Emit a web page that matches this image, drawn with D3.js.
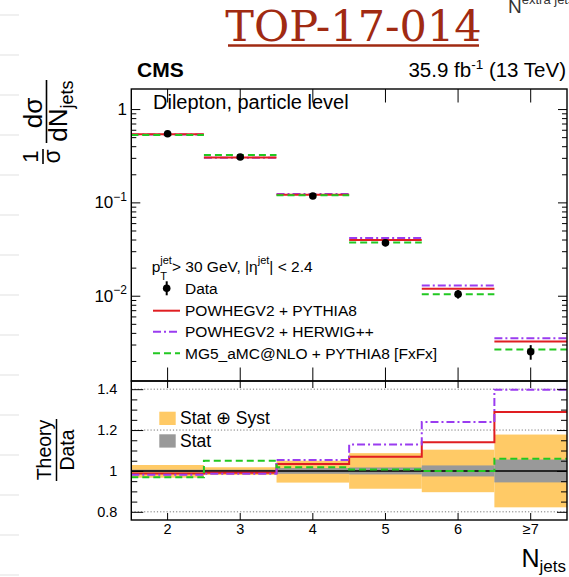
<!DOCTYPE html>
<html>
<head>
<meta charset="utf-8">
<script src="https://cdn.jsdelivr.net/npm/d3@7"></script>
<style>
  body { margin: 0; background: #fff; }
  svg { display: block; }
  text { font-family: "Liberation Sans", Arial, sans-serif; fill: #000; }
</style>
</head>
<body>
<svg id="chart" width="569" height="577"></svg>
<script>
// Jet multiplicity categories
const categories = ["2", "3", "4", "5", "6", "≥7"];

// Normalised cross section, measured
const dataValues = [0.543, 0.306, 0.117, 0.0369, 0.0104, 0.00251];
// Relative uncertainties (total up / down, statistical)
const totalUncUp   = [0.029, 0.018, 0.050, 0.087, 0.104, 0.178];
const totalUncDown = [0.033, 0.020, 0.057, 0.087, 0.104, 0.178];
const statUnc      = [0.006, 0.006, 0.014, 0.017, 0.027, 0.056];

// Predictions
const powhegPythia = [0.5365, 0.3032, 0.1210, 0.03945, 0.01186, 0.003233];
const powhegHerwig = [0.5327, 0.3017, 0.1232, 0.04166, 0.01289, 0.003506];
const mg5Pythia    = [0.5262, 0.3213, 0.1191, 0.03716, 0.0104, 0.00266];

// Axis ticks
const topMajorTicks = [1e-2, 1e-1, 1];
const topTickLabels = [["10", "\u22122"], ["10", "\u22121"], ["1", ""]];
const ratioMajorTicks = [0.8, 1, 1.2, 1.4];
const ratioTickLabels = ["0.8", "1", "1.2", "1.4"];
const ratioGridValues = [0.8, 1.2, 1.4];

const models = [
  { name: "POWHEGV2 + PYTHIA8", values: powhegPythia, color: "#e01e22", dash: null },
  { name: "POWHEGV2 + HERWIG++", values: powhegHerwig, color: "#9a3cf0", dash: "8,3,2,3" },
  { name: "MG5_aMC@NLO + PYTHIA8 [FxFx]", values: mg5Pythia, color: "#22c822", dash: "7,4" }
];

const svg = d3.select("#chart");

// faint rules at the very left edge of the page
for (let k = 0; k < 15; k++) {
  svg.append("line").attr("x1", 0).attr("x2", 19).attr("y1", 15 + 40 * k).attr("y2", 15 + 40 * k)
    .attr("stroke", "#f0f0f0").attr("stroke-width", 2);
}

// Panel geometry
const xL = 131.3, xR = 567;
const topY0 = 89, midY = 381, botY = 520;

const x = d3.scaleBand().domain(categories).range([xL, xR]).padding(0);
const y = d3.scaleLog().domain([1.22e-3, 1.64]).range([midY, topY0]);
const yr = d3.scaleLinear().domain([0.76, 1.44]).range([botY, midY]);

// ---------- header ----------
svg.append("text").attr("x", 353.5).attr("y", 41)
  .attr("text-anchor", "middle")
  .style("font-family", "'DejaVu Serif', serif").style("font-size", "43px")
  .style("fill", "#a02a12").text("TOP-17-014");
svg.append("line").attr("x1", 228).attr("x2", 479).attr("y1", 45.5).attr("y2", 45.5)
  .attr("stroke", "#a02a12").attr("stroke-width", 2.5);

const nx = svg.append("text").attr("x", 508).attr("y", 12.5).style("fill", "#333");
nx.append("tspan").style("font-size", "19px").text("N");
nx.append("tspan").style("font-size", "13px").attr("dy", -8.5).text("extra jets");

svg.append("text").attr("x", 137).attr("y", 77)
  .style("font-size", "21px").style("font-weight", "bold").text("CMS");
const lumi = svg.append("text").attr("x", 566).attr("y", 77).attr("text-anchor", "end")
  .style("font-size", "20.5px");
lumi.append("tspan").text("35.9 fb");
lumi.append("tspan").attr("dy", -8).style("font-size", "13.5px").text("-1");
lumi.append("tspan").attr("dy", 8).text(" (13 TeV)");

// ---------- top panel ----------
const topG = svg.append("g");

// predictions as horizontal bin segments
[models[1], models[0], models[2]].forEach(m => {
  topG.selectAll(null).data(categories).enter().append("line")
    .attr("x1", d => x(d)).attr("x2", d => x(d) + x.bandwidth())
    .attr("y1", (d, i) => y(m.values[i])).attr("y2", (d, i) => y(m.values[i]))
    .attr("stroke", m.color).attr("stroke-width", 2)
    .attr("stroke-dasharray", m.dash);
});

// data points with total uncertainty
topG.selectAll(null).data(categories).enter().append("line")
  .attr("x1", d => x(d) + x.bandwidth() / 2).attr("x2", d => x(d) + x.bandwidth() / 2)
  .attr("y1", (d, i) => y(dataValues[i] * (1 + totalUncUp[i])))
  .attr("y2", (d, i) => y(dataValues[i] * (1 - totalUncDown[i])))
  .attr("stroke", "#000").attr("stroke-width", 2);
topG.selectAll(null).data(categories).enter().append("circle")
  .attr("cx", d => x(d) + x.bandwidth() / 2)
  .attr("cy", (d, i) => y(dataValues[i]))
  .attr("r", 3.8).attr("fill", "#000");

// frame + ticks
const topMinor = [];
for (let e = -3; e <= 0; e++) for (let m = 2; m <= 9; m++) {
  const v = m * Math.pow(10, e);
  if (v > y.domain()[0] && v < y.domain()[1]) topMinor.push(v);
}
function styleAxis(g) {
  g.select(".domain").remove();
  g.selectAll(".tick line").attr("stroke", "#000").attr("stroke-width", 1);
}
svg.append("g").attr("transform", `translate(${xL},0)`)
  .call(d3.axisLeft(y).tickValues(topMajorTicks).tickSize(-9).tickFormat("")).call(styleAxis);
svg.append("g").attr("transform", `translate(${xL},0)`)
  .call(d3.axisLeft(y).tickValues(topMinor).tickSize(-5).tickFormat("")).call(styleAxis);
svg.append("g").attr("transform", `translate(${xR},0)`)
  .call(d3.axisRight(y).tickValues(topMajorTicks).tickSize(-9).tickFormat("")).call(styleAxis);
svg.append("g").attr("transform", `translate(${xR},0)`)
  .call(d3.axisRight(y).tickValues(topMinor).tickSize(-5).tickFormat("")).call(styleAxis);
svg.append("g").attr("transform", `translate(0,${midY})`)
  .call(d3.axisBottom(x).tickSize(-13.5).tickFormat("")).call(styleAxis);
svg.append("g").attr("transform", `translate(0,${topY0})`)
  .call(d3.axisTop(x).tickSize(-13.5).tickFormat("")).call(styleAxis);

topMajorTicks.forEach((v, i) => {
  const t = svg.append("text").attr("x", 127).attr("y", y(v) + 6)
    .attr("text-anchor", "end").style("font-size", "17px");
  t.append("tspan").text(topTickLabels[i][0]);
  if (topTickLabels[i][1]) {
    t.append("tspan").attr("dy", -7.5).style("font-size", "12px").text(topTickLabels[i][1]);
  }
});

svg.append("rect").attr("x", xL).attr("y", topY0).attr("width", xR - xL).attr("height", midY - topY0)
  .attr("fill", "none").attr("stroke", "#000").attr("stroke-width", 1.4);

// top panel texts
svg.append("text").attr("x", 153).attr("y", 109).style("font-size", "20px")
  .text("Dilepton, particle level");

const cut = svg.append("text").attr("x", 151.7).attr("y", 272).style("font-size", "15.5px");
cut.append("tspan").text("p");
cut.append("tspan").attr("dy", -8.5).style("font-size", "11px").text("jet");
cut.append("tspan").attr("dy", 8.5).text("> 30 GeV, |\u03b7");
cut.append("tspan").attr("dy", -8.5).style("font-size", "11px").text("jet");
cut.append("tspan").attr("dy", 8.5).text("| < 2.4");
svg.append("text").attr("x", 160.3).attr("y", 279.5).style("font-size", "11px").text("T");

const legendRows = [288.3, 310.7, 331.7, 353.3];
svg.append("line").attr("x1", 166.7).attr("x2", 166.7)
  .attr("y1", legendRows[0] - 7).attr("y2", legendRows[0] + 7)
  .attr("stroke", "#000").attr("stroke-width", 2);
svg.append("circle").attr("cx", 166.7).attr("cy", legendRows[0]).attr("r", 3.8).attr("fill", "#000");
svg.append("text").attr("x", 185).attr("y", legendRows[0] + 5.5).style("font-size", "15.5px").text("Data");
models.forEach((m, i) => {
  const ry = legendRows[i + 1];
  svg.append("line").attr("x1", 153).attr("x2", 180).attr("y1", ry).attr("y2", ry)
    .attr("stroke", m.color).attr("stroke-width", 2).attr("stroke-dasharray", m.dash);
  svg.append("text").attr("x", 185).attr("y", ry + 5.5).style("font-size", "15.5px").text(m.name);
});

// y title: 1/sigma dsigma/dN_jets
function rotText(X, Y, size, str) {
  return svg.append("text").attr("transform", `translate(${X},${Y}) rotate(-90)`)
    .attr("text-anchor", "middle").style("font-size", size + "px").text(str);
}
rotText(38, 156.5, 22, "1");
svg.append("line").attr("x1", 43).attr("x2", 43).attr("y1", 149).attr("y2", 164)
  .attr("stroke", "#000").attr("stroke-width", 1.6);
rotText(60, 156.5, 23, "\u03c3");
rotText(42, 113, 26, "d\u03c3");
svg.append("line").attr("x1", 46.5).attr("x2", 46.5).attr("y1", 80).attr("y2", 143)
  .attr("stroke", "#000").attr("stroke-width", 1.6);
const dn = svg.append("text").attr("transform", `translate(67,111) rotate(-90)`)
  .attr("text-anchor", "middle").style("font-size", "26px");
dn.append("tspan").text("dN");
dn.append("tspan").attr("dy", 6).style("font-size", "18px").text("jets");

// ---------- ratio panel ----------
const edges = categories.map(c => x(c)).concat([xR]);

svg.selectAll(null).data(categories).enter().append("rect")
  .attr("x", d => x(d)).attr("width", x.bandwidth())
  .attr("y", (d, i) => yr(1 + totalUncUp[i]))
  .attr("height", (d, i) => yr(1 - totalUncDown[i]) - yr(1 + totalUncUp[i]))
  .attr("fill", "#ffca66");
svg.selectAll(null).data(categories).enter().append("rect")
  .attr("x", d => x(d)).attr("width", x.bandwidth())
  .attr("y", (d, i) => yr(1 + statUnc[i]))
  .attr("height", (d, i) => yr(1 - statUnc[i]) - yr(1 + statUnc[i]))
  .attr("fill", "#999999");

ratioGridValues.forEach(v => {
  svg.append("line").attr("x1", xL).attr("x2", xR).attr("y1", yr(v)).attr("y2", yr(v))
    .attr("stroke", "#777").attr("stroke-width", 1).attr("stroke-dasharray", "1.2,2");
});
svg.append("line").attr("x1", xL).attr("x2", xR).attr("y1", yr(1)).attr("y2", yr(1))
  .attr("stroke", "#000").attr("stroke-width", 1.5);

const stepLine = d3.line().x(d => d[0]).y(d => yr(d[1])).curve(d3.curveStepAfter);
models.forEach(m => {
  const ratios = m.values.map((v, i) => v / dataValues[i]);
  const pts = ratios.map((r, i) => [edges[i], r]).concat([[edges[edges.length - 1], ratios[ratios.length - 1]]]);
  svg.append("path").attr("d", stepLine(pts)).attr("fill", "none")
    .attr("stroke", m.color).attr("stroke-width", 2).attr("stroke-dasharray", m.dash);
});

const ratioMinor = d3.range(0.8, 1.44, 0.05).filter(v => !ratioMajorTicks.some(t => Math.abs(t - v) < 1e-6));
svg.append("g").attr("transform", `translate(${xL},0)`)
  .call(d3.axisLeft(yr).tickValues(ratioMajorTicks).tickSize(-12).tickPadding(14)
    .tickFormat((d, i) => ratioTickLabels[i]))
  .call(styleAxis)
  .call(g => g.selectAll("text").style("font-size", "14.5px").style("font-family", "'Liberation Sans', Arial, sans-serif"));
svg.append("g").attr("transform", `translate(${xL},0)`)
  .call(d3.axisLeft(yr).tickValues(ratioMinor).tickSize(-6).tickFormat("")).call(styleAxis);
svg.append("g").attr("transform", `translate(${xR},0)`)
  .call(d3.axisRight(yr).tickValues(ratioMajorTicks).tickSize(-10).tickFormat("")).call(styleAxis);
svg.append("g").attr("transform", `translate(${xR},0)`)
  .call(d3.axisRight(yr).tickValues(ratioMinor).tickSize(-6).tickFormat("")).call(styleAxis);
svg.append("g").attr("transform", `translate(0,${botY})`)
  .call(d3.axisBottom(x).tickSize(-7).tickPadding(4))
  .call(styleAxis)
  .call(g => g.selectAll("text").style("font-size", "14.5px").style("font-family", "'Liberation Sans', Arial, sans-serif"));
svg.append("g").attr("transform", `translate(0,${midY})`)
  .call(d3.axisTop(x).tickSize(-7).tickFormat("")).call(styleAxis);

svg.append("rect").attr("x", xL).attr("y", midY).attr("width", xR - xL).attr("height", botY - midY)
  .attr("fill", "none").attr("stroke", "#000").attr("stroke-width", 1.4);

// ratio legend
svg.append("rect").attr("x", 159.3).attr("y", 411.7).attr("width", 16.4).attr("height", 13.3).attr("fill", "#ffca66");
svg.append("text").attr("x", 180).attr("y", 424).style("font-size", "17.5px").text("Stat \u2295 Syst");
svg.append("rect").attr("x", 159.3).attr("y", 434.3).attr("width", 16.4).attr("height", 13.3).attr("fill", "#999999");
svg.append("text").attr("x", 180).attr("y", 446.5).style("font-size", "17.5px").text("Stat");

// ratio y title
rotText(51, 450, 19.5, "Theory");
svg.append("line").attr("x1", 56.5).attr("x2", 56.5).attr("y1", 419).attr("y2", 481)
  .attr("stroke", "#000").attr("stroke-width", 1.5);
rotText(74, 450, 19.5, "Data");

// x title
const xt = svg.append("text").attr("x", 566).attr("y", 566.5).attr("text-anchor", "end").style("font-size", "25px");
xt.append("tspan").text("N");
xt.append("tspan").attr("dy", 5).style("font-size", "17px").text("jets");
</script>
</body>
</html>
